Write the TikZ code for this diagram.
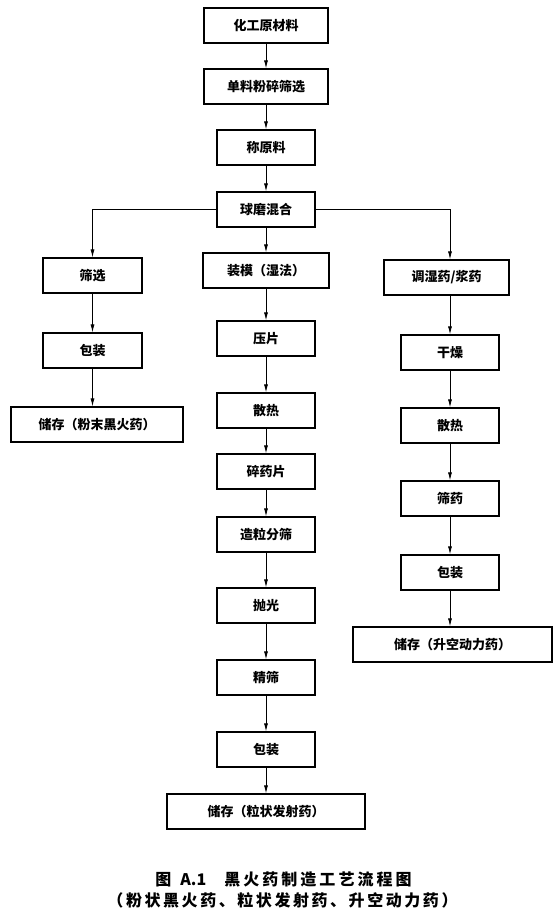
\documentclass[tikz,border=0pt]{standalone}
\usepackage{fontspec}
\usetikzlibrary{arrows.meta}
\newfontfamily\cjk{Noto Sans CJK SC}
\newfontfamily\cjkcapa[LetterSpace=19]{Noto Sans CJK SC}
\newfontfamily\cjkcapb[LetterSpace=16]{Noto Sans CJK SC}
\begin{document}
\begin{tikzpicture}[x=1pt,y=-1pt,
  box/.style={draw,line width=1.2pt,inner sep=0pt,minimum height=35pt,
    font=\cjk\bfseries\fontsize{13}{13}\selectfont},
  flow/.style={line width=0.8pt,-{Latex[length=8pt,width=4pt]}},
  captext/.style={inner sep=0pt,anchor=center}]
\useasboundingbox (0,0) rectangle (559,917);
% centre column
\node[box,minimum width=124pt] (raw)   at (266,25.5)  {化工原材料};
\node[box,minimum width=124pt] (crush) at (266,86.5)  {单料粉碎筛选};
\node[box,minimum width=98pt]  (weigh) at (266,147.5) {称原料};
\node[box,minimum width=98pt]  (mill)  at (266,209.5) {球磨混合};
\node[box,minimum width=126pt] (mold)  at (266,270.5) {装模（湿法）};
\node[box,minimum width=98pt]  (press) at (266,338.5) {压片};
\node[box,minimum width=98pt]  (cool)  at (266,410.5) {散热};
\node[box,minimum width=98pt]  (chip)  at (266,471.5) {碎药片};
\node[box,minimum width=98pt]  (gran)  at (266,534.5) {造粒分筛};
\node[box,minimum width=98pt]  (pol)   at (266,605.5) {抛光};
\node[box,minimum width=98pt]  (fine)  at (266,677.5) {精筛};
\node[box,minimum width=98pt]  (packb) at (266,749.5) {包装};
\node[box,minimum width=198pt] (storeb) at (266,811.5) {储存（粒状发射药）};
% left column
\node[box,minimum width=99pt]  (sieve) at (92.5,275.5) {筛选};
\node[box,minimum width=99pt]  (packa) at (92.5,350.5) {包装};
\node[box,minimum width=172pt] (storea) at (97,424.5)  {储存（粉末黑火药）};
% right column
\node[box,minimum width=125pt] (wet)   at (446.5,277.5) {调湿药/浆药};
\node[box,minimum width=98pt]  (dry)   at (450,352.5)   {干燥};
\node[box,minimum width=98pt]  (coolc) at (450,425.5)   {散热};
\node[box,minimum width=98pt]  (sievc) at (450,498.5)   {筛药};
\node[box,minimum width=98pt]  (packc) at (450,572.5)   {包装};
\node[box,minimum width=199pt] (storec) at (452.5,644.5) {储存（升空动力药）};
% connectors centre
\draw[flow] (raw) -- (crush);
\draw[flow] (crush) -- (weigh);
\draw[flow] (weigh) -- (mill);
\draw[flow] (mill) -- (mold);
\draw[flow] (mold) -- (press);
\draw[flow] (press) -- (cool);
\draw[flow] (cool) -- (chip);
\draw[flow] (chip) -- (gran);
\draw[flow] (gran) -- (pol);
\draw[flow] (pol) -- (fine);
\draw[flow] (fine) -- (packb);
\draw[flow] (packb) -- (storeb);
% left
\draw[flow] (mill.west) -| (sieve.north);
\draw[flow] (sieve) -- (packa);
\draw[flow] (packa.south) -- (packa.south |- storea.north);
% right
\draw[flow] (mill.east) -| (wet.north -| dry.north);
\draw[flow] (wet.south -| dry.north) -- (dry.north);
\draw[flow] (dry) -- (coolc);
\draw[flow] (coolc) -- (sievc);
\draw[flow] (sievc) -- (packc);
\draw[flow] (packc.south) -- (packc.south |- storec.north);
% caption
\node[captext,font=\cjk\bfseries\fontsize{16}{16}\selectfont] (cap1) at (283.5,879)
  {图\hspace{9pt}A.1\hspace{18pt}{\cjkcapa\bfseries 黑火药制造工艺流程图}};
\node[captext,font=\cjkcapb\bfseries\fontsize{16}{16}\selectfont] (cap2) at (282.5,900)
  {（粉状黑火药、粒状发射药、升空动力药）};
\end{tikzpicture}
\end{document}
